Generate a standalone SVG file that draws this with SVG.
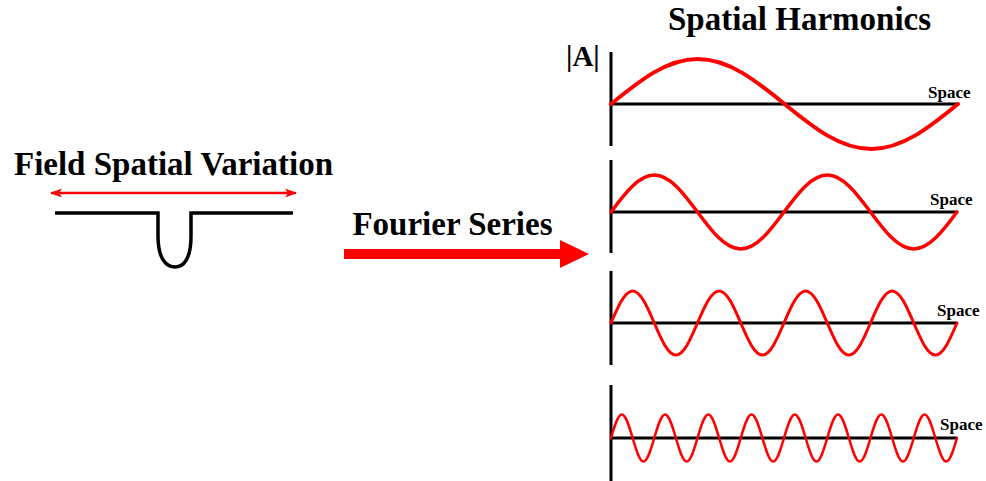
<svg xmlns="http://www.w3.org/2000/svg" width="986" height="481" viewBox="0 0 986 481">
<style>
.t{font-family:"Liberation Serif","Times New Roman",serif;font-weight:bold;fill:#000}
.big{font-size:33px}
.sp{font-size:17px}
.ax{stroke:#000;stroke-width:3;fill:none}
.w{stroke:#f00;fill:none;stroke-linecap:round;stroke-linejoin:round}
</style>
<defs>
<marker id="ah" viewBox="0 0 12 10" refX="11" refY="5" markerWidth="12" markerHeight="10" markerUnits="userSpaceOnUse" orient="auto-start-reverse">
<path d="M0,0.5 L12,5 L0,9.5 L3,5 Z" fill="#f00"/>
</marker>
</defs>
<rect width="986" height="481" fill="#fff"/>
<g id="field">
<text class="t big" x="173.5" y="175" text-anchor="middle">Field Spatial Variation</text>
<path d="M55,213 H158 V236 C158,260 167,267 175,267 C183,267 191,260 191,236 V213 H293" fill="none" stroke="#000" stroke-width="3.5"/>
</g>
<g id="fourier">
<text class="t big" x="452.5" y="235" text-anchor="middle">Fourier Series</text>
</g>
<g id="harmonics">
<text class="t big" x="799.5" y="30" text-anchor="middle">Spatial Harmonics</text>
<text class="t" style="font-size:29px" x="566" y="66">|A|</text>
<g id="h1">
<path class="ax" d="M611,52 V146 M611,104 H958"/>
<path class="w" stroke-width="4" d="M611,104 C639.29,80.95 666.36,59 697.75,59 S756.21,80.95 784.5,104 S839.86,149 871.25,149 S929.71,127.05 958,104"/>
<text class="t sp" x="928" y="98">Space</text>
</g>
<g id="h2">
<path class="ax" d="M611,160 V253 M611,212 H957"/>
<path class="w" stroke-width="3.5" d="M611,212 C625.10,193.04 638.60,175 654.25,175 S683.40,193.04 697.5,212 S725.10,249 740.75,249 S769.90,230.96 784,212 S811.60,175 827.25,175 S856.40,193.04 870.5,212 S898.10,249 913.75,249 S942.90,230.96 957,212"/>
<text class="t sp" x="930" y="205">Space</text>
</g>
<g id="h3">
<path class="ax" d="M611,271 V365 M611,323 H957"/>
<path class="w" stroke-width="3" d="M611,323 C618.05,306.61 624.80,291 632.63,291 S647.20,306.61 654.25,323 S668.05,355 675.88,355 S690.45,339.39 697.5,323 S711.30,291 719.13,291 S733.70,306.61 740.75,323 S754.55,355 762.38,355 S776.95,339.39 784,323 S797.80,291 805.63,291 S820.20,306.61 827.25,323 S841.05,355 848.88,355 S863.45,339.39 870.5,323 S884.30,291 892.13,291 S906.70,306.61 913.75,323 S927.55,355 935.38,355 S949.95,339.39 957,323"/>
<text class="t sp" x="937" y="316">Space</text>
</g>
<g id="h4">
<path class="ax" d="M611,385 V481 M611,438 H957"/>
<path class="w" stroke-width="2.5" d="M611,438 C614.53,425.960 617.90,414.5 621.81,414.5 S629.10,425.96 632.63,438 S639.53,461.5 643.44,461.5 S650.73,450.04 654.25,438 S661.15,414.5 665.06,414.5 S672.35,425.96 675.88,438 S682.78,461.5 686.69,461.5 S693.98,450.04 697.5,438 S704.40,414.5 708.31,414.5 S715.60,425.96 719.13,438 S726.03,461.5 729.94,461.5 S737.23,450.04 740.75,438 S747.65,414.5 751.56,414.5 S758.85,425.96 762.38,438 S769.28,461.5 773.19,461.5 S780.48,450.04 784,438 S790.90,414.5 794.81,414.5 S802.10,425.96 805.63,438 S812.53,461.5 816.44,461.5 S823.73,450.04 827.25,438 S834.15,414.5 838.06,414.5 S845.35,425.96 848.88,438 S855.78,461.5 859.69,461.5 S866.98,450.04 870.5,438 S877.40,414.5 881.31,414.5 S888.60,425.96 892.13,438 S899.03,461.5 902.94,461.5 S910.23,450.04 913.75,438 S920.65,414.5 924.56,414.5 S931.85,425.96 935.38,438 S942.28,461.5 946.19,461.5 S953.48,450.04 957,438"/>
<text class="t sp" x="940" y="430">Space</text>
</g>
</g>
<g id="connectors">
<line x1="51" y1="193" x2="296" y2="193" stroke="#f00" stroke-width="2.5" marker-start="url(#ah)" marker-end="url(#ah)"/>
<polygon points="344,249 560,249 560,240 589,254 560,268 560,259 344,259" fill="#f00"/>
</g>
</svg>
